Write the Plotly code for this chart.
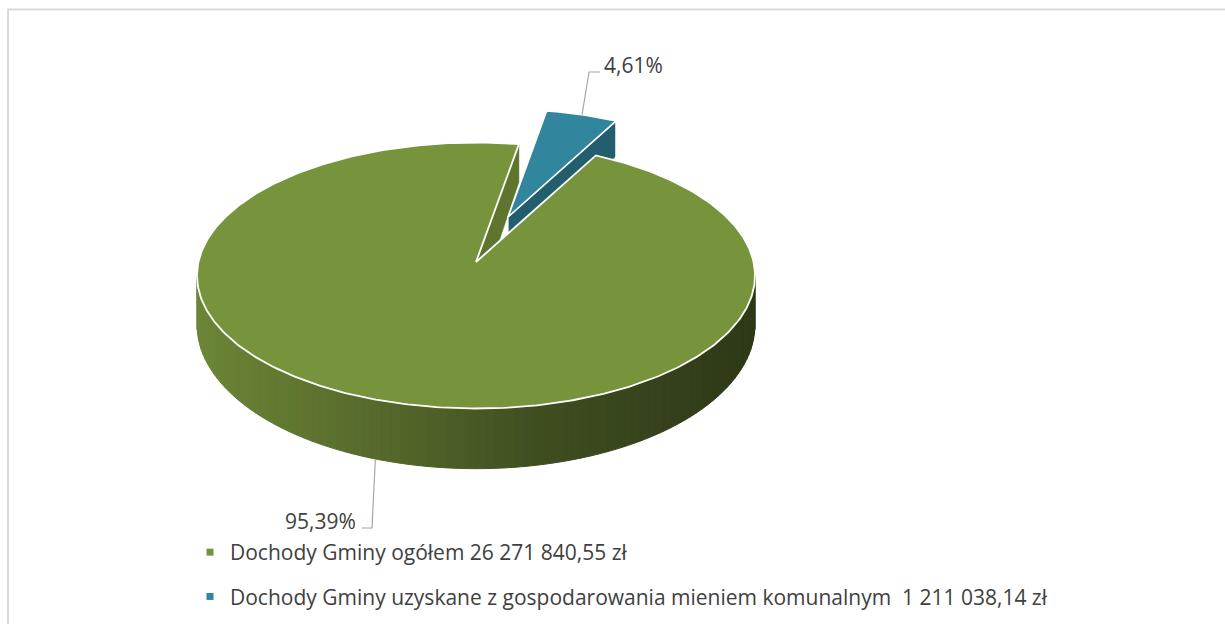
import numpy as np
import plotly.graph_objects as go

# ---------------- data ----------------
categories = [
    "Dochody Gminy ogółem 26 271 840,55 zł",
    "Dochody Gminy uzyskane z gospodarowania mieniem komunalnym  1 211 038,14 zł",
]
total_income = 26271840.55
communal_income = 1211038.14
# pie slices: remaining income vs. communal-property income (share of the total)
slice_values = [total_income - communal_income, communal_income]
slice_colors = ["#77933C", "#31859C"]

# ---------------- styles / geometry ----------------
W, H = 1225, 624
CX, CY = 476.0, 275.5      # ellipse centre of the top face (pixels)
RX, RY = 279.0, 133.0      # ellipse radii
APEX = np.array([476.0, 262.0])
START_DEG = 81.15          # first slice starts here, counter-clockwise
EXPLODE = np.array([32.0, -45.0])
EXPLODE_SCALE = 0.9
TEXT = "#404040"
FONT = "Open Sans"
FS = 21


def top_pt(phi_deg):
    p = np.radians(phi_deg)
    return np.array([CX + RX * np.cos(p), CY - RY * np.sin(p)])


def depth(y):
    return 49.0 + 0.084 * (y - CY)


def lerp_color(x):
    stops = [(197, (108, 133, 54)), (376, (86, 106, 43)),
             (530, (64, 79, 33)), (755, (45, 56, 23))]
    if x <= stops[0][0]:
        c = stops[0][1]
    elif x >= stops[-1][0]:
        c = stops[-1][1]
    else:
        for (x0, c0), (x1, c1) in zip(stops[:-1], stops[1:]):
            if x0 <= x <= x1:
                t = (x - x0) / (x1 - x0)
                c = tuple(c0[i] + t * (c1[i] - c0[i]) for i in range(3))
                break
    return "rgb(%d,%d,%d)" % tuple(int(round(v)) for v in c)


vals = np.array(slice_values, dtype=float)
fracs = vals / vals.sum()
sweeps = 360.0 * fracs
starts = START_DEG + np.concatenate([[0.0], np.cumsum(sweeps)[:-1]])
ends = starts + sweeps

fig = go.Figure()


def poly(pts, fill, line_color=None, line_width=0.0):
    pts = np.asarray(pts)
    fig.add_trace(go.Scatter(
        x=list(pts[:, 0]) + [pts[0, 0]], y=list(pts[:, 1]) + [pts[0, 1]],
        mode="lines", fill="toself", fillcolor=fill,
        line=dict(color=line_color or fill, width=line_width),
        hoverinfo="skip", showlegend=False))


# --- green slice: curved side (visible front half) with horizontal gradient
g0, g1 = starts[0], ends[0]
side_from, side_to = max(180.0, g0), min(360.0, g1)
edges = np.linspace(side_from, side_to, 91)
for a0, a1 in zip(edges[:-1], edges[1:]):
    ph = np.linspace(a0, a1, 4)
    top = np.array([top_pt(p) for p in ph])
    bot = np.array([t + [0, depth(t[1])] for t in top])[::-1]
    xm = top[:, 0].mean()
    poly(np.vstack([top, bot]), lerp_color(xm), line_width=1.0)

# --- green slice radial wall facing the gap
bg = top_pt(g0)
wall = [APEX, bg, bg + [0, depth(bg[1])], APEX + [0, depth(APEX[1])]]
poly(wall, "rgb(95,117,45)", line_width=0.5)


# --- blue (exploded) slice
def tb(p):
    return APEX + EXPLODE + EXPLODE_SCALE * (np.asarray(p) - APEX)


b0, b1 = starts[1], ends[1]
bb = tb(top_pt(b0))
ba = tb(APEX)
bwall = [ba, bb, bb + [0, depth(bb[1])], ba + [0, depth(ba[1])]]
poly(bwall, "rgb(34,94,110)", line_color="white", line_width=1.2)
btop = [ba] + [tb(top_pt(p)) for p in np.linspace(b0, b1, 30)]
poly(btop, slice_colors[1], line_color="white", line_width=1.6)

# --- green top face
gtop = [APEX] + [top_pt(p) for p in np.linspace(g0, g1, 400)]
poly(gtop, slice_colors[0], line_color="white", line_width=1.8)

# ---------------- labels with leader lines ----------------
def pct(f):
    return ("%.2f%%" % (100 * f)).replace(".", ",")


# blue label
bmid = tb(top_pt((b0 + b1) / 2))
fig.add_trace(go.Scatter(x=[bmid[0], 589, 600], y=[bmid[1], 72, 72], mode="lines",
                         line=dict(color="#A6A6A6", width=1.2),
                         hoverinfo="skip", showlegend=False))
fig.add_annotation(x=602, y=65, text=pct(fracs[1]), showarrow=False,
                   xanchor="left", yanchor="middle",
                   font=dict(family=FONT, size=FS, color=TEXT))

# green label
gm = top_pt((g0 + g1) / 2 - 4)
gm = gm + [0, depth(gm[1])]
fig.add_trace(go.Scatter(x=[gm[0], 372, 362], y=[gm[1], 528, 528], mode="lines",
                         line=dict(color="#A6A6A6", width=1.2),
                         hoverinfo="skip", showlegend=False))
fig.add_annotation(x=358, y=521, text=pct(fracs[0]), showarrow=False,
                   xanchor="right", yanchor="middle",
                   font=dict(family=FONT, size=FS, color=TEXT))

# ---------------- legend ----------------
for i, (name, col) in enumerate(zip(categories, slice_colors)):
    fig.add_trace(go.Scatter(x=[None], y=[None], mode="markers", name=name,
                             marker=dict(symbol="square", size=7, color=col),
                             legendgroup="g%d" % i, showlegend=True))

fig.add_shape(type="rect", x0=8, y0=9.5, x1=1260, y1=660,
              line=dict(color="#D9D9D9", width=2), fillcolor="rgba(0,0,0,0)")

fig.update_layout(
    width=W, height=H,
    margin=dict(l=0, r=0, t=0, b=0),
    paper_bgcolor="white", plot_bgcolor="white",
    xaxis=dict(range=[0, W], visible=False, fixedrange=True),
    yaxis=dict(range=[H, 0], visible=False, fixedrange=True),
    showlegend=True,
    legend=dict(x=190 / W, y=1 - 532 / H, xanchor="left", yanchor="top",
                bgcolor="rgba(0,0,0,0)", tracegroupgap=14,
                font=dict(family=FONT, size=FS, color=TEXT),
                itemclick=False, itemdoubleclick=False),
    hovermode=False,
)

fig.write_html("out.html")
